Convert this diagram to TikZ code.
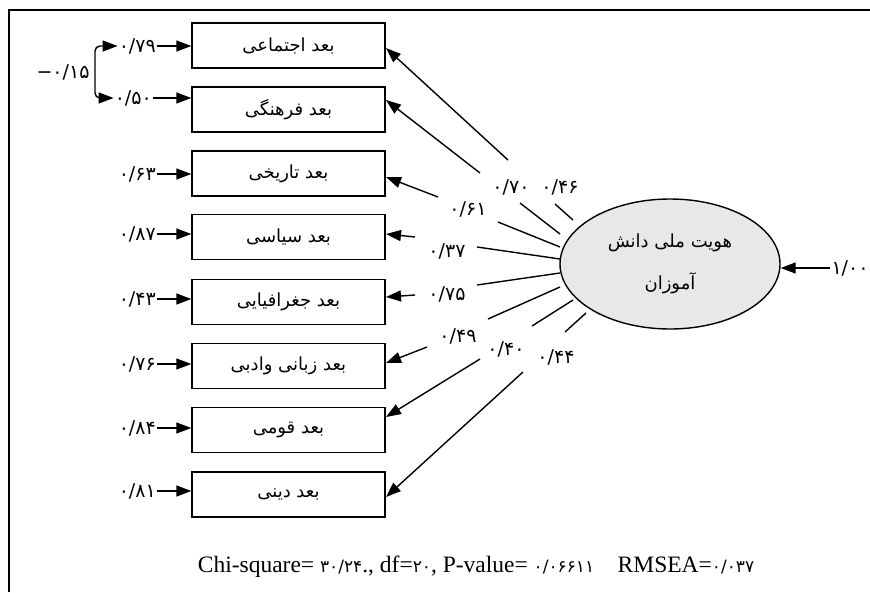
\documentclass[tikz,border=0pt]{standalone}
\usepackage{fontspec}
\usetikzlibrary{arrows.meta,shapes.geometric,calc}
\setmainfont{Liberation Serif}
\newfontfamily\pfont[Script=Arabic]{DejaVu Sans}
\newfontfamily\pnum{DejaVu Sans}
\TeXXeTstate=1
\newcommand\pdig[1]{{\pnum\fontsize{17}{20}\selectfont #1}}
\begin{document}
\begin{tikzpicture}[x=1pt,y=-1pt,
  box/.style={draw, line width=1.4pt, minimum width=193pt, minimum height=45pt, inner sep=0pt,
    font=\pfont\fontsize{18}{21}\selectfont},
  ln/.style={line width=1.4pt},
  arr/.style={line width=1.4pt, -{Triangle[length=15pt,width=11pt]}},
  dbl/.style={line width=1.4pt, {Triangle[length=15pt,width=11pt]}-{Triangle[length=15pt,width=11pt]}, rounded corners=5pt},
  num/.style={inner sep=1pt, font=\pnum\fontsize{19}{22}\selectfont},
  lat/.style={draw, ellipse, fill=gray!18, line width=1.4pt, minimum width=220pt, minimum height=130pt,
    inner sep=0pt, align=center, font=\pfont\fontsize{18}{21}\selectfont}]
\useasboundingbox (0,0) rectangle (870,592);
\draw[line width=1.5pt] (9,592) -- (9,10) -- (870,10);

% indicator boxes
\node[box] (b1) at (288.5,45.5) {\beginR بعد اجتماعی\endR};
\node[box] (b2) at (288.5,109.5) {\beginR بعد فرهنگی\endR};
\node[box] (b3) at (288.5,173.5) {\beginR بعد تاریخی\endR};
\node[box] (b4) at (288.5,237) {\beginR بعد سیاسی\endR};
\node[box] (b5) at (288.5,302) {\beginR بعد جغرافیایی\endR};
\node[box] (b6) at (288.5,366) {\beginR بعد زبانی وادبی\endR};
\node[box] (b7) at (288.5,430) {\beginR بعد قومی\endR};
\node[box] (b8) at (288.5,494.5) {\beginR بعد دینی\endR};

% latent variable
\node[lat] (E) at (670,264) {\beginR هویت ملی دانش\endR\\[19pt]\beginR آموزان\endR};

% error terms
\node[num, anchor=east] (e1) at (157,46) {۰/۷۹};
\node[num, anchor=east] (e2) at (153,98) {۰/۵۰};
\node[num, anchor=east] (e3) at (157,174) {۰/۶۳};
\node[num, anchor=east] (e4) at (157,234) {۰/۸۷};
\node[num, anchor=east] (e5) at (157,299) {۰/۴۳};
\node[num, anchor=east] (e6) at (157,364) {۰/۷۶};
\node[num, anchor=east] (e7) at (157,428) {۰/۸۴};
\node[num, anchor=east] (e8) at (157,491) {۰/۸۱};
\foreach \i in {1,...,8}{
  \draw[arr] (e\i.east) -- (e\i.east -| b\i.west);
}

% correlation between errors
\node[num] (c12) at (63,72) {−۰/۱۵};
\draw[dbl] (e1.west) -| (95,72) |- (e2.west);

% disturbance of latent
\node[num] (r) at (850,268) {۱/۰۰};
\draw[arr] (r.west) -- (r.west -| E.east);

% loading paths (ellipse end, gap ends, tip)
\coordinate (s1) at (573,220); \coordinate (p1) at (555,204); \coordinate (q1) at (508,160); \coordinate (t1) at (386,48);
\coordinate (s2) at (560,234); \coordinate (p2) at (520,203); \coordinate (q2) at (480,173); \coordinate (t2) at (386,100);
\coordinate (s3) at (560,247); \coordinate (p3) at (498,222); \coordinate (q3) at (438,197); \coordinate (t3) at (386,177);
\coordinate (s4) at (560,259); \coordinate (p4) at (477,247); \coordinate (q4) at (415,237); \coordinate (t4) at (386,234);
\coordinate (s5) at (560,273); \coordinate (p5) at (477,285); \coordinate (q5) at (415,295); \coordinate (t5) at (386,297);
\coordinate (s6) at (560,287); \coordinate (p6) at (488,319); \coordinate (q6) at (427,347); \coordinate (t6) at (386,363);
\coordinate (s7) at (573,300); \coordinate (p7) at (532,326); \coordinate (q7) at (480,359); \coordinate (t7) at (386,417);
\coordinate (s8) at (586,313); \coordinate (p8) at (565,332); \coordinate (q8) at (523,372); \coordinate (t8) at (386,497);
\foreach \i in {1,...,8}{
  \draw[ln] (s\i) -- (p\i);
  \draw[arr] (q\i) -- (t\i);
}

% loading labels
\node[num] (l1) at (560,187) {۰/۴۶};
\node[num] (l2) at (511,187) {۰/۷۰};
\node[num] (l3) at (468,209) {۰/۶۱};
\node[num] (l4) at (447,251) {۰/۳۷};
\node[num] (l5) at (447,294) {۰/۷۵};
\node[num] (l6) at (458,336) {۰/۴۹};
\node[num] (l7) at (506,349) {۰/۴۰};
\node[num] (l8) at (556,357) {۰/۴۴};

% fit statistics
\node[font=\fontsize{23.5}{26}\selectfont] (fit) at (476,567)
  {Chi-square= \pdig{۳۰/۲۴}., df=\pdig{۲۰}, P-value= \pdig{۰/۰۶۶۱۱}\quad RMSEA=\pdig{۰/۰۳۷}};
\end{tikzpicture}
\end{document}
